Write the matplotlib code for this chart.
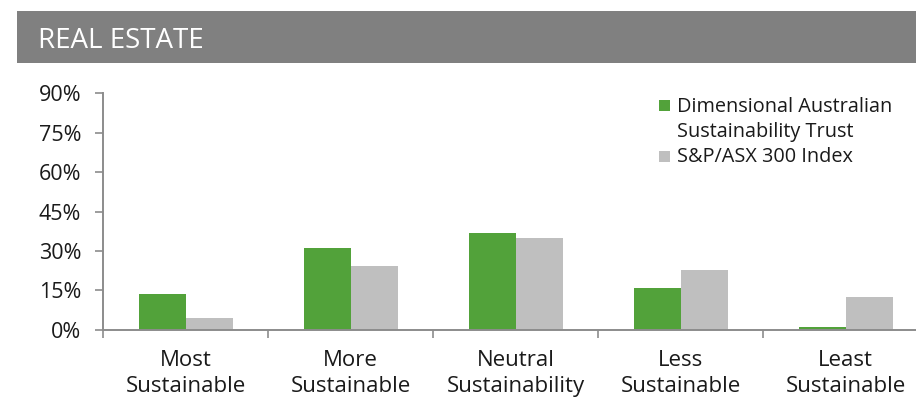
import matplotlib
matplotlib.use("Agg")
import matplotlib.pyplot as plt
from matplotlib.patches import Rectangle
from matplotlib.ticker import FuncFormatter
from matplotlib.transforms import offset_copy
import numpy as np

plt.rcParams['font.family'] = ['Open Sans', 'DejaVu Sans']

categories = ["Most\nSustainable", "More\nSustainable", "Neutral\nSustainability",
              "Less\nSustainable", "Least\nSustainable"]
trust_vals = [13.7, 31.2, 36.7, 15.9, 0.9]
index_vals = [4.6, 24.2, 34.9, 22.8, 12.3]
series_names = ["Dimensional Australian\nSustainability Trust", "S&P/ASX 300 Index"]
yticks = [0, 15, 30, 45, 60, 75, 90]
title = "REAL ESTATE"

GREEN = "#52A23A"
GREY = "#BFBFBF"
AXIS = "#8C8C8C"
TEXT = "#1a1a1a"

W, H = 916, 398
fig = plt.figure(figsize=(W / 100, H / 100), dpi=100)

def fx(px):
    return px / W

def fy(py):
    return 1 - py / H

# Header band
fig.add_artist(Rectangle((fx(16.7), fy(63.3)), 1.0, (63.3 - 11) / H,
                         transform=fig.transFigure, color="#808080", lw=0))
fig.text(fx(38.5), fy(47.7), title, color="white", fontsize=20,
         va="baseline", ha="left")

# Plot area
left, right, top, bottom = 103.3, 928.0, 93.3, 329.7
ax = fig.add_axes([fx(left), fy(bottom), fx(right - left), (bottom - top) / H])

x = np.arange(len(categories))
bw = 0.285
ax.bar(x - bw / 2, trust_vals, bw, color=GREEN, lw=0)
ax.bar(x + bw / 2, index_vals, bw, color=GREY, lw=0)

ax.set_xlim(-0.5, len(categories) - 0.5)
ax.set_ylim(0, 90)
ax.set_yticks(yticks)
ax.yaxis.set_major_formatter(FuncFormatter(lambda v, _: f"{v:.0f}%"))
ax.tick_params(axis="y", length=6, width=1.2, color=AXIS, pad=10,
               labelsize=15.5, labelcolor=TEXT)

# Category labels: two lines under each group, baselines at fixed pixel offsets
ax.set_xticks(x)
ax.set_xticklabels([])
ax.tick_params(axis="x", which="major", length=0)
ax.set_xticks(np.arange(len(categories) + 1) - 0.5, minor=True)
ax.tick_params(axis="x", which="minor", length=6, width=1.2, color=AXIS)
line_offsets = [-36.5, -62.0]
for xi, label in zip(x, categories):
    for off, line in zip(line_offsets, label.split("\n")):
        tr = offset_copy(ax.get_xaxis_transform(), fig=fig, y=off, units="dots")
        ax.text(xi, 0, line, transform=tr, ha="center", va="baseline",
                fontsize=16, color=TEXT, clip_on=False)

for s in ("top", "right"):
    ax.spines[s].set_visible(False)
for s in ("left", "bottom"):
    ax.spines[s].set_color(AXIS)
    ax.spines[s].set_linewidth(1.4)

# Legend
sq = 11
fig.add_artist(Rectangle((fx(659), fy(110.7)), sq / W, sq / H,
                         transform=fig.transFigure, color=GREEN, lw=0))
fig.add_artist(Rectangle((fx(659), fy(161.7)), sq / W, sq / H,
                         transform=fig.transFigure, color=GREY, lw=0))
name1a, name1b = series_names[0].split("\n")
fig.text(fx(676.7), fy(112.3), name1a, fontsize=14.3, va="baseline", color=TEXT)
fig.text(fx(676.7), fy(136.7), name1b, fontsize=14.3, va="baseline", color=TEXT)
fig.text(fx(676.7), fy(161.7), series_names[1], fontsize=14.3, va="baseline", color=TEXT)

fig.savefig("out.png", dpi=100)
